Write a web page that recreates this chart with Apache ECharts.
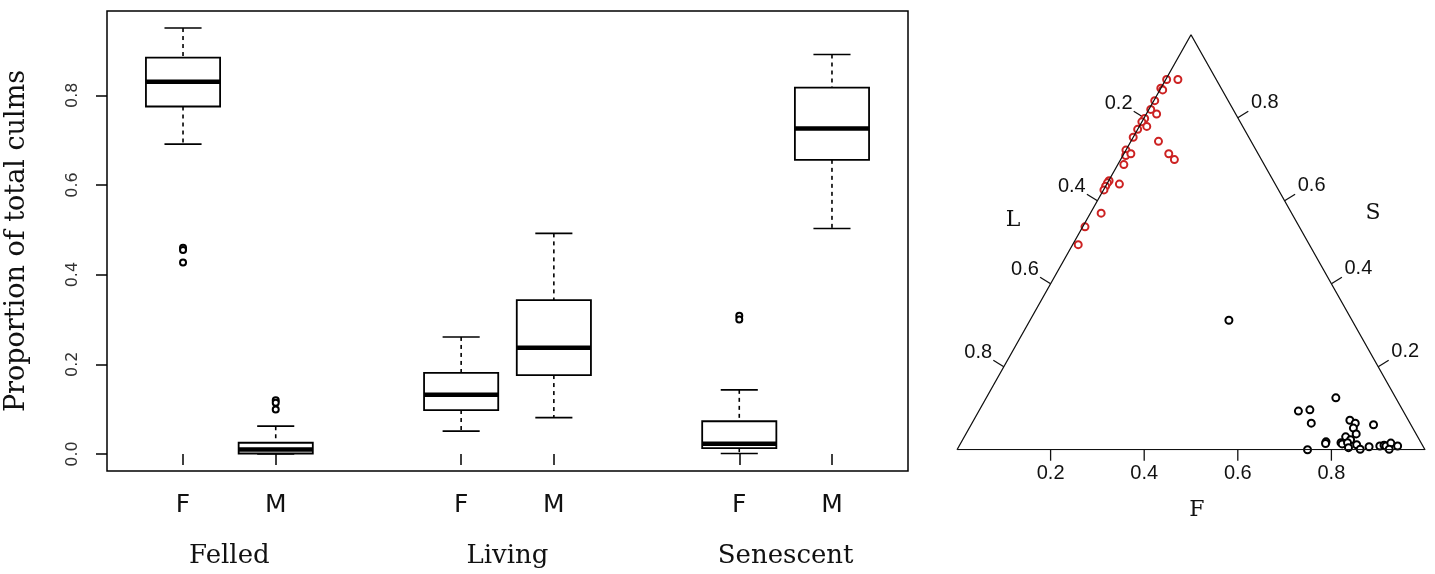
<!DOCTYPE html>
<html>
<head>
<meta charset="utf-8">
<script src="https://cdn.jsdelivr.net/npm/echarts@6.0.0/dist/echarts.min.js"></script>
<style>
  html, body { margin: 0; padding: 0; background: #fff; }
  #main { width: 1435px; height: 574px; }
</style>
</head>
<body>
<div id="main"></div>
<script>
// box plot data (proportion of total culms)
var groups = ['Felled', 'Living', 'Senescent'];
var groupPos = [1.5, 4.5, 7.5];
var boxLabels = ['F', 'M', 'F', 'M', 'F', 'M'];
var boxPos = [1, 2, 4, 5, 7, 8];
var boxMin = [0.691, 0.000, 0.051, 0.081, 0.001, 0.503];
var boxQ1 = [0.775, 0.001, 0.098, 0.176, 0.013, 0.656];
var boxMed = [0.830, 0.010, 0.132, 0.237, 0.023, 0.726];
var boxQ3 = [0.884, 0.025, 0.181, 0.343, 0.073, 0.817];
var boxMax = [0.950, 0.062, 0.261, 0.492, 0.143, 0.891];
var outlierPos = [1, 1, 1, 2, 2, 2, 7, 7];
var outlierVal = [0.460, 0.455, 0.427, 0.120, 0.114, 0.099, 0.308, 0.300];
var yTicks = [0, 0.2, 0.4, 0.6, 0.8];

// ternary plot data, each point is [F, L, S]
var ternTicks = [0.2, 0.4, 0.6, 0.8];
var redPoints = [
    [0.002, 0.106, 0.892], [0.026, 0.082, 0.892], [0.000, 0.129, 0.871], [0.006, 0.127, 0.867],
    [0.002, 0.157, 0.841], [0.004, 0.176, 0.820], [0.022, 0.169, 0.809], [0.002, 0.200, 0.798],
    [0.000, 0.210, 0.790], [0.016, 0.205, 0.779], [0.000, 0.228, 0.772], [0.000, 0.247, 0.753],
    [0.059, 0.198, 0.743], [0.000, 0.278, 0.722], [0.006, 0.285, 0.709], [0.015, 0.272, 0.713],
    [0.096, 0.191, 0.713], [0.115, 0.186, 0.699], [0.013, 0.300, 0.687], [0.001, 0.351, 0.648],
    [0.000, 0.357, 0.643], [0.000, 0.365, 0.635], [0.001, 0.373, 0.626], [0.027, 0.333, 0.640],
    [0.023, 0.407, 0.570], [0.005, 0.458, 0.537], [0.012, 0.494, 0.494]
];
var blackPoints = [
    [0.425, 0.264, 0.312], [0.747, 0.128, 0.125], [0.683, 0.223, 0.093], [0.706, 0.198, 0.096],
    [0.725, 0.212, 0.064], [0.804, 0.125, 0.071], [0.819, 0.117, 0.064], [0.860, 0.081, 0.060],
    [0.821, 0.127, 0.052], [0.834, 0.128, 0.038], [0.815, 0.154, 0.031], [0.829, 0.147, 0.024],
    [0.779, 0.203, 0.019], [0.780, 0.205, 0.015], [0.812, 0.171, 0.017], [0.816, 0.170, 0.014],
    [0.826, 0.158, 0.017], [0.834, 0.161, 0.005], [0.848, 0.140, 0.012], [0.861, 0.138, 0.001],
    [0.877, 0.117, 0.007], [0.899, 0.092, 0.009], [0.907, 0.082, 0.011], [0.912, 0.079, 0.009],
    [0.919, 0.065, 0.016], [0.923, 0.076, 0.001], [0.937, 0.054, 0.009], [0.749, 0.251, 0.000]
];

var H = Math.sqrt(3) / 2;
// [F, L, S] -> x,y inside the triangle
function ternXY(p) {
    return [p[0] + p[2] / 2, p[2] * H];
}

var boxData = boxPos.map(function (p, i) {
    return [p, boxMin[i], boxQ1[i], boxMed[i], boxQ3[i], boxMax[i]];
});
var outlierData = outlierPos.map(function (p, i) { return [p, outlierVal[i]]; });

// tick items on the three sides: [x, y, side, value]
var tickData = [];
ternTicks.forEach(function (t) {
    var b = ternXY([t, 1 - t, 0]);
    var l = ternXY([0, t, 1 - t]);
    var r = ternXY([1 - t, 0, t]);
    tickData.push([b[0], b[1], 0, t]);
    tickData.push([l[0], l[1], 1, t]);
    tickData.push([r[0], r[1], 2, t]);
});
var tickDir = [[0, 11], [-10.5, -6.5], [10.5, -6.5]];
var labelOff = [[0, 24], [-25.6, -14], [27, -15]];

function renderBox(params, api) {
    var x = api.value(0);
    var w = 0.4, c = 0.2;
    var pMin = api.coord([x, api.value(1)]);
    var pQ1 = api.coord([x, api.value(2)]);
    var pMed = api.coord([x, api.value(3)]);
    var pQ3 = api.coord([x, api.value(4)]);
    var pMax = api.coord([x, api.value(5)]);
    var xl = api.coord([x - w, 0])[0], xr = api.coord([x + w, 0])[0];
    var cl = api.coord([x - c, 0])[0], cr = api.coord([x + c, 0])[0];
    var solid = { stroke: '#000', lineWidth: 1.6 };
    var dash = { stroke: '#000', lineWidth: 1.6, lineDash: [4, 4] };
    return {
        type: 'group',
        children: [
            { type: 'line', shape: { x1: pMax[0], y1: pMax[1], x2: pQ3[0], y2: pQ3[1] }, style: dash },
            { type: 'line', shape: { x1: pQ1[0], y1: pQ1[1], x2: pMin[0], y2: pMin[1] }, style: dash },
            { type: 'line', shape: { x1: cl, y1: pMax[1], x2: cr, y2: pMax[1] }, style: solid },
            { type: 'line', shape: { x1: cl, y1: pMin[1], x2: cr, y2: pMin[1] }, style: solid },
            { type: 'rect', shape: { x: xl, y: pQ3[1], width: xr - xl, height: pQ1[1] - pQ3[1] },
              style: { fill: '#fff', stroke: '#000', lineWidth: 1.8 } },
            { type: 'line', shape: { x1: xl, y1: pMed[1], x2: xr, y2: pMed[1] },
              style: { stroke: '#000', lineWidth: 4.5 } }
        ]
    };
}

function renderTick(params, api) {
    var p = api.coord([api.value(0), api.value(1)]);
    var s = api.value(2);
    var d = tickDir[s], o = labelOff[s];
    return {
        type: 'group',
        children: [
            { type: 'line', shape: { x1: p[0], y1: p[1], x2: p[0] + d[0], y2: p[1] + d[1] },
              style: { stroke: '#111', lineWidth: 1.3 } },
            { type: 'text', x: p[0] + o[0], y: p[1] + o[1],
              style: { text: api.value(3).toFixed(1), font: '20px "Liberation Sans"', fill: '#111',
                       align: 'center', verticalAlign: 'middle' } }
        ]
    };
}

var myChart = echarts.init(document.getElementById('main'));

var option = {
    backgroundColor: '#fff',
    animation: false,
    grid: [
        { left: 107, top: 11, width: 801, height: 460, show: true, borderColor: '#000', borderWidth: 1.5,
          outerBoundsMode: 'none', containLabel: false },
        { left: 957, top: 34.7, width: 468, height: 415, outerBoundsMode: 'none', containLabel: false }
    ],
    xAxis: [
        {
            type: 'value', gridIndex: 0, min: 0.18, max: 8.82,
            splitLine: { show: false },
            axisLine: { show: false },
            axisTick: { show: true, length: 11, customValues: boxPos, lineStyle: { color: '#000', width: 1.5 } },
            axisLabel: {
                customValues: boxPos, margin: 22,
                fontFamily: 'DejaVu Sans', fontSize: 25, color: '#111',
                formatter: function (v) { return boxLabels[boxPos.indexOf(v)]; }
            }
        },
        {
            type: 'value', gridIndex: 0, min: 0.18, max: 8.82, position: 'bottom', offset: 64,
            splitLine: { show: false },
            axisLine: { show: false },
            axisTick: { show: false },
            axisLabel: {
                customValues: groupPos, margin: 8,
                fontFamily: 'DejaVu Serif', fontSize: 26, color: '#111',
                formatter: function (v) { return groups[groupPos.indexOf(v)]; }
            }
        },
        { type: 'value', gridIndex: 1, min: 0, max: 1, show: false }
    ],
    yAxis: [
        {
            type: 'value', gridIndex: 0, min: -0.038, max: 0.988,
            name: 'Proportion of total culms', nameLocation: 'middle', nameGap: 77, nameRotate: 90,
            nameTextStyle: { fontFamily: 'DejaVu Serif', fontSize: 27, color: '#111' },
            splitLine: { show: false },
            axisLine: { show: false },
            axisTick: { show: true, length: 11, customValues: yTicks, lineStyle: { color: '#000', width: 1.5 } },
            axisLabel: {
                customValues: yTicks, rotate: 90, margin: 26,
                fontFamily: 'DejaVu Sans', fontSize: 16, color: '#333',
                formatter: function (v) { return v.toFixed(1); }
            }
        },
        { type: 'value', gridIndex: 1, min: 0, max: H, show: false }
    ],
    graphic: [
        { type: 'text', x: 1013, y: 220, style: { text: 'L', font: '22px "DejaVu Serif"', fill: '#111', align: 'center', verticalAlign: 'middle' } },
        { type: 'text', x: 1373, y: 213, style: { text: 'S', font: '22px "DejaVu Serif"', fill: '#111', align: 'center', verticalAlign: 'middle' } },
        { type: 'text', x: 1197, y: 510, style: { text: 'F', font: '22px "DejaVu Serif"', fill: '#111', align: 'center', verticalAlign: 'middle' } }
    ],
    series: [
        {
            type: 'custom', xAxisIndex: 0, yAxisIndex: 0,
            renderItem: renderBox,
            encode: { x: 0, y: [1, 2, 3, 4, 5] },
            data: boxData
        },
        {
            type: 'scatter', xAxisIndex: 0, yAxisIndex: 0,
            symbol: 'emptyCircle', symbolSize: 6,
            itemStyle: { color: '#000', borderColor: '#000', borderWidth: 1.5, opacity: 1 },
            data: outlierData
        },
        {
            // triangle outline
            type: 'line', xAxisIndex: 2, yAxisIndex: 1, symbol: 'none', silent: true,
            lineStyle: { color: '#111', width: 1.3 },
            data: [[0, 0], [1, 0], [0.5, H], [0, 0]]
        },
        {
            type: 'custom', xAxisIndex: 2, yAxisIndex: 1,
            renderItem: renderTick,
            encode: { x: 0, y: 1 },
            data: tickData
        },
        {
            type: 'scatter', xAxisIndex: 2, yAxisIndex: 1,
            symbol: 'emptyCircle', symbolSize: 7,
            itemStyle: { color: '#000', borderColor: '#000', borderWidth: 1.2, opacity: 1 },
            data: blackPoints.map(ternXY)
        },
        {
            type: 'scatter', xAxisIndex: 2, yAxisIndex: 1,
            symbol: 'emptyCircle', symbolSize: 7,
            itemStyle: { color: '#cc2222', borderColor: '#cc2222', borderWidth: 1.2, opacity: 1 },
            data: redPoints.map(ternXY)
        }
    ]
};

myChart.setOption(option);
</script>
</body>
</html>
